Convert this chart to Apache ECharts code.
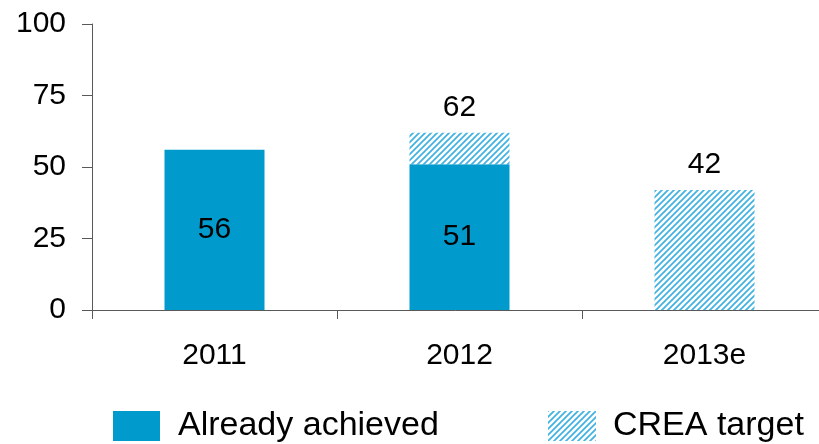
<!DOCTYPE html>
<html>
<head>
<meta charset="utf-8">
<script src="https://cdn.jsdelivr.net/npm/echarts@6/dist/echarts.min.js"></script>
<style>html,body{margin:0;padding:0;background:#fff;}#c{width:819px;height:444px;}</style>
</head>
<body>
<div id="c"></div>
<script>
const categories = ['2011', '2012', '2013e'];
const alreadyAchieved = [56, 51, null];
const creaTarget = [null, 62, 42];
const yTicks = [0, 25, 50, 75, 100];

// hatched pattern
const P = 6;
const pc = document.createElement('canvas');
pc.width = P; pc.height = P;
const g = pc.getContext('2d');
g.fillStyle = '#ffffff';
g.fillRect(0, 0, P, P);
g.strokeStyle = '#40b2e2';
g.lineWidth = 1.7;
g.beginPath();
g.moveTo(-1, P + 1); g.lineTo(P + 1, -1);
g.moveTo(-P / 2 - 1, P / 2 + 1); g.lineTo(P / 2 + 1, -P / 2 - 1);
g.moveTo(P / 2 - 1, P * 1.5 + 1); g.lineTo(P * 1.5 + 1, P / 2 - 1);
g.stroke();
const hatch = { image: pc, repeat: 'repeat' };

const targetIncrement = creaTarget.map((v, i) => v == null ? null : v - (alreadyAchieved[i] || 0));

const font = 'Liberation Sans, Arial, sans-serif';
const chart = echarts.init(document.getElementById('c'));
chart.setOption({
  animation: false,
  textStyle: { fontFamily: font },
  grid: { left: 92, right: -8, top: 24, bottom: 134, outerBoundsMode: 'none', containLabel: false },
  legend: [
    { data: ['Already achieved'], left: 113, top: 409, itemWidth: 47, itemHeight: 30, icon: 'rect',
      textStyle: { fontSize: 34, color: '#000', fontFamily: font, padding: [3, 0, 0, 13] }, itemGap: 0, padding: 0 },
    { data: ['CREA target'], left: 548, top: 409, itemWidth: 48, itemHeight: 30, icon: 'rect',
      textStyle: { fontSize: 34, color: '#000', fontFamily: font, padding: [3, 0, 0, 12] }, itemGap: 0, padding: 0 }
  ],
  xAxis: {
    type: 'category', data: categories, boundaryGap: true,
    axisLine: { lineStyle: { color: '#595959', width: 1 } },
    axisTick: { show: true, length: 9, lineStyle: { color: '#595959' } },
    axisLabel: { fontSize: 30, color: '#000', margin: 31, fontFamily: font }
  },
  yAxis: {
    type: 'value', min: yTicks[0], max: yTicks[yTicks.length - 1], interval: 25,
    axisLine: { show: true, lineStyle: { color: '#595959', width: 1 } },
    axisTick: { show: true, length: 10, lineStyle: { color: '#595959' } },
    splitLine: { show: false },
    axisLabel: { fontSize: 30, color: '#000', margin: 26, fontFamily: font }
  },
  series: [
    { name: 'Already achieved', type: 'bar', stack: 'a', barWidth: 100, data: alreadyAchieved,
      itemStyle: { color: '#009acd' },
      label: { show: true, position: 'inside', fontSize: 30, color: '#000', fontFamily: font } },
    { name: 'CREA target', type: 'bar', stack: 'a', barWidth: 100, data: targetIncrement,
      itemStyle: { color: hatch },
      label: { show: true, position: 'top', distance: 10, fontSize: 30, color: '#000', fontFamily: font,
        formatter: p => creaTarget[p.dataIndex] } }
  ]
});
</script>
</body>
</html>
